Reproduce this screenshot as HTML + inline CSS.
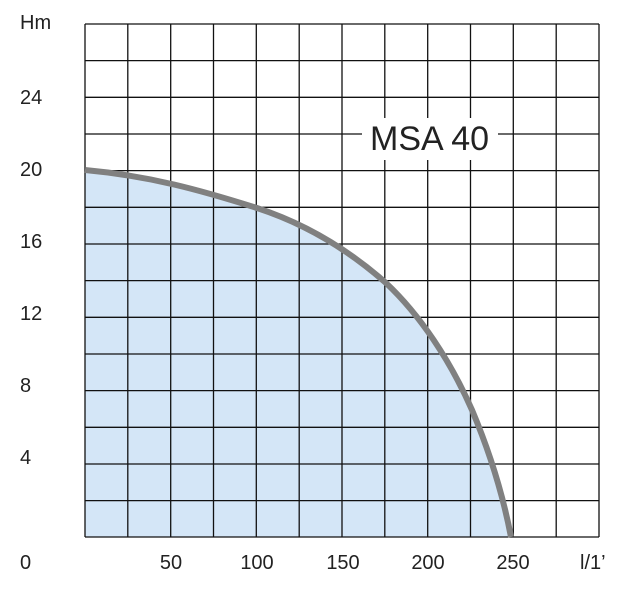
<!DOCTYPE html>
<html><head><style>body{margin:0;background:#fff}</style></head><body>
<svg width="620" height="589" xmlns="http://www.w3.org/2000/svg" font-family="Liberation Sans, sans-serif" fill="#222">
<path d="M85,170 C150,176 200,190 257,208 C300,222 343,245 386,283 C420,315 450,360 472,410 C488,448 502,490 511,537 L85,537 Z" fill="#d4e6f7"/>
<g stroke="#111" stroke-width="1.3">
<line x1="85" y1="24" x2="85" y2="537"/><line x1="127.8" y1="24" x2="127.8" y2="537"/><line x1="170.7" y1="24" x2="170.7" y2="537"/><line x1="213.5" y1="24" x2="213.5" y2="537"/><line x1="256.3" y1="24" x2="256.3" y2="537"/><line x1="299.2" y1="24" x2="299.2" y2="537"/><line x1="342" y1="24" x2="342" y2="537"/><line x1="384.8" y1="24" x2="384.8" y2="537"/><line x1="427.7" y1="24" x2="427.7" y2="537"/><line x1="470.5" y1="24" x2="470.5" y2="537"/><line x1="513.3" y1="24" x2="513.3" y2="537"/><line x1="556.2" y1="24" x2="556.2" y2="537"/><line x1="599" y1="24" x2="599" y2="537"/>
<line x1="85" y1="24" x2="599" y2="24"/><line x1="85" y1="60.6" x2="599" y2="60.6"/><line x1="85" y1="97.3" x2="599" y2="97.3"/><line x1="85" y1="134" x2="599" y2="134"/><line x1="85" y1="170.6" x2="599" y2="170.6"/><line x1="85" y1="207.3" x2="599" y2="207.3"/><line x1="85" y1="244" x2="599" y2="244"/><line x1="85" y1="280.6" x2="599" y2="280.6"/><line x1="85" y1="317.3" x2="599" y2="317.3"/><line x1="85" y1="354" x2="599" y2="354"/><line x1="85" y1="390.6" x2="599" y2="390.6"/><line x1="85" y1="427.3" x2="599" y2="427.3"/><line x1="85" y1="464" x2="599" y2="464"/><line x1="85" y1="500.6" x2="599" y2="500.6"/><line x1="85" y1="537" x2="599" y2="537"/>
</g>
<path d="M85,170 C150,176 200,190 257,208 C300,222 343,245 386,283 C420,315 450,360 472,410 C488,448 502,490 511,537" fill="none" stroke="#808080" stroke-width="6"/>
<rect x="362" y="118" width="136" height="42" fill="#fff"/>
<text x="370" y="150" font-size="34">MSA 40</text>
<g font-size="20">
<text x="20" y="29">Hm</text>
<text x="20" y="104">24</text>
<text x="20" y="176">20</text>
<text x="20" y="248">16</text>
<text x="20" y="320">12</text>
<text x="20" y="392">8</text>
<text x="20" y="464">4</text>
<text x="20" y="569">0</text>
<text x="171" y="569" text-anchor="middle">50</text>
<text x="257" y="569" text-anchor="middle">100</text>
<text x="343" y="569" text-anchor="middle">150</text>
<text x="428" y="569" text-anchor="middle">200</text>
<text x="513" y="569" text-anchor="middle">250</text>
<text x="580" y="569">l/1’</text>
</g>
</svg>
</body></html>
